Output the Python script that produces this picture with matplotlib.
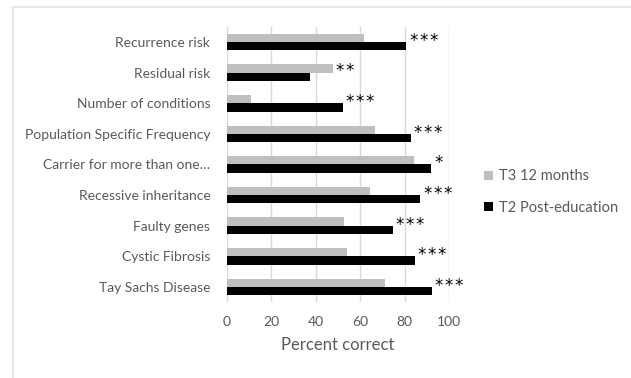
import matplotlib.pyplot as plt
import numpy as np
from matplotlib.lines import Line2D

categories = [
    "Recurrence risk",
    "Residual risk",
    "Number of conditions",
    "Population Specific Frequency",
    "Carrier for more than one…",
    "Recessive inheritance",
    "Faulty genes",
    "Cystic Fibrosis",
    "Tay Sachs Disease",
]
t3_12_months = [61.6, 47.7, 10.7, 66.5, 84.1, 64.3, 52.7, 54.1, 71.3]
t2_post_edu = [80.8, 37.4, 52.3, 82.9, 92.0, 87.1, 74.6, 84.5, 92.2]
stars = ["***", "**", "***", "***", "*", "***", "***", "***", "***"]
xticks = [0, 20, 40, 60, 80, 100]

TEXT = "#595959"
GRAY = "#BFBFBF"
GRID = "#D9D9D9"

plt.rcParams["font.family"] = ["Lato", "DejaVu Sans"]

fig = plt.figure(figsize=(6.31, 3.78), dpi=100)
ax = fig.add_axes([0.3597, 0.2003, 0.352, 0.7291])

y = np.arange(len(categories))
h = 0.27
ax.barh(y - h / 2, t3_12_months, height=h, color=GRAY, label="T3 12 months")
ax.barh(y + h / 2, t2_post_edu, height=h, color="black", label="T2 Post-education")

# significance stars just right of the longer bar
for yi, a, b, s in zip(y, t3_12_months, t2_post_edu, stars):
    ax.text(max(a, b) + 1.5, yi - 0.04, "\u200a".join(s), fontsize=12, color="black",
            family="DejaVu Sans", va="center", ha="left")

ax.set_ylim(len(categories) - 0.5, -0.5)
ax.set_xlim(0, 100)
ax.set_xticks(xticks)
ax.set_yticks(y)
ax.set_yticklabels(categories)
ax.tick_params(axis="both", length=0, colors=TEXT, labelsize=10)
ax.tick_params(axis="y", pad=12)
ax.tick_params(axis="x", pad=10)
ax.grid(axis="x", color=GRID, linewidth=1)
ax.set_axisbelow(True)
for sp in ax.spines.values():
    sp.set_visible(False)
ax.set_xlabel("Percent correct", color=TEXT, fontsize=12, labelpad=6)

leg = ax.legend(loc="center left", bbox_to_anchor=(1.1, 0.40), frameon=False,
                fontsize=10.5, labelcolor=TEXT, handlelength=0.6, handleheight=0.6,
                handletextpad=0.4, labelspacing=1.2)

# light border of the chart area
fig.add_artist(Line2D([13 / 631, 13 / 631], [0, 1 - 7 / 378], color="#E6E6E6", lw=1.5))
fig.add_artist(Line2D([13 / 631, 1], [1 - 7 / 378, 1 - 7 / 378], color="#E6E6E6", lw=1.5))

fig.savefig("out.png", dpi=100)
